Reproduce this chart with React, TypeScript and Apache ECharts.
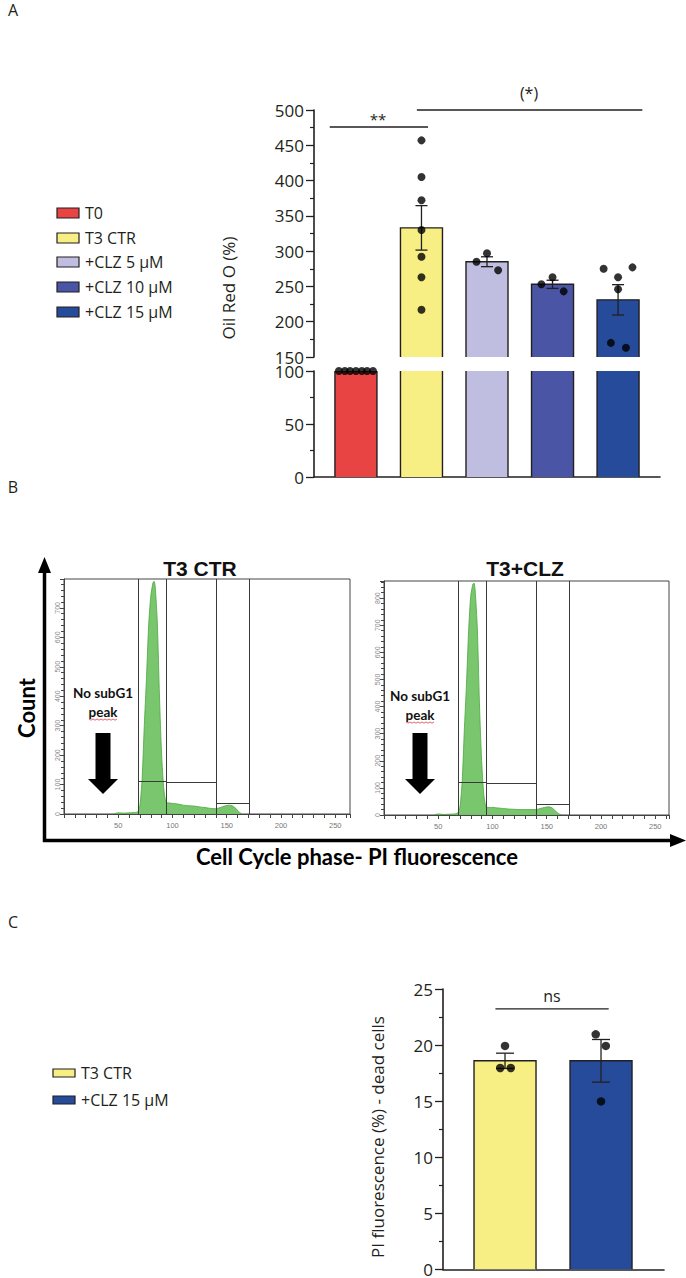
import React, { useEffect, useRef } from 'react';
import * as echarts from 'echarts';

// ---------- Panel A data ----------
const groupsA = ['T0', 'T3 CTR', '+CLZ 5 µM', '+CLZ 10 µM', '+CLZ 15 µM'];
const colorsA = ['#e84444', '#f8ef84', '#c0bee0', '#4a55a5', '#264b9b'];
const meansA = [100, 333, 285, 253, 231];
const semsA = [0, 31.5, 7, 5.8, 21.5];
const dotsT0 = [100, 100, 100, 100, 100, 100, 100];
const jitT0 = [-0.26, -0.17, -0.09, 0, 0.09, 0.17, 0.26];
const dotsT3 = [457, 405, 372, 330, 292, 263, 217];
const jitT3 = [0, 0, 0, 0, 0, 0, 0];
const dotsClz5 = [285, 297, 273];
const jitClz5 = [-0.16, 0, 0.17];
const dotsClz10 = [253, 263, 243];
const jitClz10 = [-0.17, 0, 0.17];
const dotsClz15 = [275, 263, 277, 246, 170, 163];
const jitClz15 = [-0.22, 0, 0.22, 0, -0.11, 0.12];
const ticksA = [0, 50, 100, 150, 200, 250, 300, 350, 400, 450, 500];
// significance brackets: [from, to, level]
const sigA = [[-0.4, 1.1, 476], [0.93, 4.37, 500]];
const sigLabelsA = ['**', '(*)'];

// ---------- Panel B data (flow cytometry histograms) ----------
const histX = [46, 50, 55, 60, 65, 68, 70, 72, 74, 76, 78, 80, 82, 83, 84, 86, 88, 90, 92, 94, 96, 100, 105, 110, 115, 120, 125, 130, 135, 140, 144, 148, 152, 155, 158, 161, 164];
const histCtr = [0, 4, 3, 4, 5, 8, 30, 120, 300, 460, 640, 740, 785, 790, 775, 650, 400, 200, 85, 40, 38, 36, 34, 30, 28, 27, 24, 22, 19, 18, 22, 27, 30, 28, 20, 8, 0];
const histClz = [0, 4, 2, 3, 4, 8, 30, 120, 310, 480, 680, 810, 852, 855, 830, 690, 410, 200, 75, 30, 28, 28, 26, 24, 22, 21, 20, 20, 20, 20, 24, 28, 30, 26, 15, 5, 0];
const gateX = [68.5, 94.5, 140.5, 171];
const gateLevelsCtr = [112, 108, 37];
const gateLevelsClz = [122, 118, 41];
const titlesB = ['T3 CTR', 'T3+CLZ'];

// ---------- Panel C data ----------
const groupsC = ['T3 CTR', '+CLZ 15 µM'];
const colorsC = ['#f8ef84', '#264b9b'];
const meansC = [18.6, 18.6];
const semsC = [0.68, 1.9];
const dotsCtrC = [19.93, 17.96, 17.96];
const jitCtrC = [0, -0.05, 0.06];
const dotsClzC = [20.96, 19.93, 14.98];
const jitClzC = [-0.055, 0.05, 0];
const sigC = [[-0.1, 1.08, 23.23]];

const INK = '#231f20';
const FONT = '"Open Sans", sans-serif';
const BFONT = 'Lato, sans-serif';

function makeBarRender(lo: number, hi: number, width: number, colors: string[]) {
  return (params: any, api: any) => {
    const x = api.value(0);
    const v = api.value(1);
    if (v <= lo) return { type: 'group', children: [] };
    const top = Math.min(v, hi);
    const pT = api.coord([x, top]);
    const pB = api.coord([x, lo]);
    const l = pT[0] - width / 2;
    const r = pT[0] + width / 2;
    const stroke = { stroke: INK, lineWidth: 1.4, fill: null };
    const children: any[] = [
      { type: 'rect', shape: { x: l, y: pT[1], width, height: pB[1] - pT[1] }, style: { fill: colors[params.dataIndex] } },
    ];
    if (v <= hi) {
      children.push({ type: 'polyline', shape: { points: [[l, pB[1]], [l, pT[1]], [r, pT[1]], [r, pB[1]]] }, style: stroke });
    } else {
      children.push({ type: 'line', shape: { x1: l, y1: pB[1], x2: l, y2: pT[1] }, style: stroke });
      children.push({ type: 'line', shape: { x1: r, y1: pB[1], x2: r, y2: pT[1] }, style: stroke });
    }
    return { type: 'group', children };
  };
}

function makeErrRender(capW: number) {
  return (_params: any, api: any) => {
    const x = api.value(0);
    const m = api.value(1);
    const s = api.value(2);
    if (!s) return { type: 'group', children: [] };
    const pHi = api.coord([x, m + s]);
    const pLo = api.coord([x, m - s]);
    const st = { stroke: INK, lineWidth: 1.3 };
    return {
      type: 'group',
      children: [
        { type: 'line', shape: { x1: pHi[0], y1: pHi[1], x2: pLo[0], y2: pLo[1] }, style: st },
        { type: 'line', shape: { x1: pHi[0] - capW / 2, y1: pHi[1], x2: pHi[0] + capW / 2, y2: pHi[1] }, style: st },
        { type: 'line', shape: { x1: pLo[0] - capW / 2, y1: pLo[1], x2: pLo[0] + capW / 2, y2: pLo[1] }, style: st },
      ],
    };
  };
}

function dotData(vals: number[], jit: number[], idx: number) {
  return vals.map((v, j) => [idx + jit[j], v]);
}

function bracketSeries(b: number[], axisIndex: number) {
  return {
    type: 'line',
    xAxisIndex: axisIndex,
    yAxisIndex: axisIndex,
    clip: false,
    symbol: 'none',
    silent: true,
    lineStyle: { color: INK, width: 1.4 },
    data: [[b[0], b[2]], [b[1], b[2]]],
    z: 4,
  };
}

const yAxisA = (min: number, max: number, gridIndex: number) => ({
  type: 'value',
  gridIndex,
  min,
  max,
  interval: 50,
  axisLine: { show: true, onZero: false, lineStyle: { color: INK, width: 1.6 } },
  axisTick: { show: true, length: 8, lineStyle: { color: INK, width: 1.3 } },
  minorTick: { show: true, splitNumber: 2, length: 4, lineStyle: { color: INK, width: 1.2 } },
  splitLine: { show: false },
  minorSplitLine: { show: false },
  axisLabel: {
    margin: 10,
    fontSize: 17,
    color: INK,
    fontFamily: FONT,
    formatter: (v: number) => (ticksA.includes(v) ? String(v) : ''),
  },
});

const histXAxis = (gridIndex: number, max: number) => ({
  type: 'value',
  gridIndex,
  min: 0,
  max,
  interval: 50,
  axisLine: { show: true, onZero: false, lineStyle: { color: '#444', width: 1 } },
  axisTick: { show: true, length: 4, lineStyle: { color: '#444' } },
  minorTick: { show: true, splitNumber: 5, length: 4, lineStyle: { color: '#444' } },
  splitLine: { show: false },
  axisLabel: {
    fontSize: 7.5,
    color: '#777',
    margin: 7,
    formatter: (v: number) => (v > 0 && v % 50 === 0 ? String(v) : ''),
  },
});

const histYAxis = (gridIndex: number, max: number) => ({
  type: 'value',
  gridIndex,
  min: 0,
  max,
  interval: 100,
  axisLine: { show: true, onZero: false, lineStyle: { color: '#444', width: 1 } },
  axisTick: { show: true, length: 4, lineStyle: { color: '#444' } },
  minorTick: { show: true, splitNumber: 5, length: 3, lineStyle: { color: '#444' } },
  splitLine: { show: false },
  axisLabel: {
    fontSize: 7,
    color: '#888',
    rotate: 90,
    margin: 3,
    formatter: (v: number) => (v % 100 === 0 ? String(v) : ''),
  },
});

function histSeries(counts: number[], levels: number[], xi: number) {
  return {
    type: 'line',
    xAxisIndex: xi,
    yAxisIndex: xi,
    data: histX.map((x, i) => [x, counts[i]]),
    showSymbol: false,
    smooth: 0.25,
    lineStyle: { color: '#4aa83e', width: 0.8 },
    areaStyle: { color: '#72c366', opacity: 0.95 },
    markLine: {
      silent: true,
      symbol: 'none',
      label: { show: false },
      lineStyle: { color: '#3a3a3a', width: 1, type: 'solid' },
      emphasis: { disabled: true },
      data: [
        ...gateX.map((g) => ({ xAxis: g })),
        ...levels.map((l, i) => [{ coord: [gateX[i], l] }, { coord: [gateX[i + 1], l] }]),
      ],
    },
  };
}

function noSubG1(cx: number, y1: number, y2: number) {
  const els: any[] = [
    { type: 'text', x: cx, y: y1, style: { text: 'No subG1', font: `bold 13.5px ${BFONT}`, fill: '#111', align: 'center', verticalAlign: 'middle' } },
    { type: 'text', x: cx, y: y2, style: { text: 'peak', font: `bold 13.5px ${BFONT}`, fill: '#111', align: 'center', verticalAlign: 'middle' } },
    { type: 'rect', shape: { x: cx - 7.5, y: 733, width: 15, height: 47 }, style: { fill: '#000' } },
    { type: 'polygon', shape: { points: [[cx - 15, 779], [cx + 15, 779], [cx, 794]] }, style: { fill: '#000' } },
  ];
  const pts: number[][] = [];
  for (let i = 0; i <= 14; i++) pts.push([cx - 14 + i * 2, y2 + 7 + (i % 2 === 0 ? 0 : 1.2)]);
  els.push({ type: 'polyline', shape: { points: pts }, style: { stroke: '#e04040', lineWidth: 0.8, fill: null } });
  return els;
}

function legend(items: string[], colors: string[], x: number, ys: number[], h: number) {
  const els: any[] = [];
  items.forEach((name, i) => {
    els.push({ type: 'rect', shape: { x, y: ys[i] - h / 2, width: 22, height: h }, style: { fill: colors[i], stroke: INK, lineWidth: 1.2 } });
    els.push({ type: 'text', x: x + 28, y: ys[i], style: { text: name, font: `16px ${FONT}`, fill: INK, verticalAlign: 'middle' } });
  });
  return els;
}

const hiddenX = (gridIndex: number, min: number, max: number, showLine: boolean) => ({
  type: 'value',
  gridIndex,
  min,
  max,
  axisLine: { show: showLine, onZero: false, lineStyle: { color: INK, width: 1.6 } },
  axisTick: { show: false },
  axisLabel: { show: false },
  splitLine: { show: false },
});

export default function App() {
  const ref = useRef<HTMLDivElement>(null);
  useEffect(() => {
    document.body.style.margin = '0';
    const chart = echarts.init(ref.current!, undefined, { renderer: 'svg' });
    const option: any = {
      animation: false,
      backgroundColor: '#ffffff',
      grid: [
        { left: 314, top: 110, width: 346, height: 247 }, // A upper
        { left: 314, top: 371, width: 346, height: 106 }, // A lower
        { left: 64, top: 579, width: 286, height: 235, show: true, borderColor: '#444', borderWidth: 1 }, // B left
        { left: 384, top: 581, width: 285, height: 234, show: true, borderColor: '#444', borderWidth: 1 }, // B right
        { left: 443, top: 989, width: 221, height: 283 }, // C
      ],
      xAxis: [
        hiddenX(0, -0.64, 4.64, false),
        hiddenX(1, -0.64, 4.64, true),
        histXAxis(2, 263.6),
        histXAxis(3, 262.7),
        hiddenX(4, -0.646, 1.656, true),
      ],
      yAxis: [
        yAxisA(150, 500, 0),
        yAxisA(0, 100, 1),
        histYAxis(2, 798),
        histYAxis(3, 863),
        {
          type: 'value', gridIndex: 4, min: 0, max: 25, interval: 5,
          axisLine: { show: true, onZero: false, lineStyle: { color: INK, width: 1.6 } },
          axisTick: { show: true, length: 8, lineStyle: { color: INK, width: 1.3 } },
          minorTick: { show: true, splitNumber: 2, length: 4, lineStyle: { color: INK, width: 1.2 } },
          splitLine: { show: false },
          axisLabel: { margin: 10, fontSize: 17, color: INK, fontFamily: FONT },
        },
      ],
      series: [
        // Panel A bars (upper and lower segments of broken axis)
        { type: 'custom', xAxisIndex: 0, yAxisIndex: 0, clip: true, renderItem: makeBarRender(150, 500, 42, colorsA), data: meansA.map((v, i) => [i, v]), encode: { x: 0, y: 1 }, z: 2 },
        { type: 'custom', xAxisIndex: 1, yAxisIndex: 1, clip: true, renderItem: makeBarRender(0, 100, 42, colorsA), data: meansA.map((v, i) => [i, v]), encode: { x: 0, y: 1 }, z: 2 },
        { type: 'custom', xAxisIndex: 0, yAxisIndex: 0, clip: true, renderItem: makeErrRender(12), data: meansA.map((v, i) => [i, v, semsA[i]]), encode: { x: 0, y: 1 }, z: 3 },
        {
          type: 'scatter', xAxisIndex: 1, yAxisIndex: 1, clip: false, symbolSize: 8, itemStyle: { color: '#000' }, z: 5,
          data: dotData(dotsT0, jitT0, 0),
        },
        {
          type: 'scatter', xAxisIndex: 0, yAxisIndex: 0, clip: false, symbolSize: 8, itemStyle: { color: '#000' }, z: 5,
          data: [
            ...dotData(dotsT3, jitT3, 1),
            ...dotData(dotsClz5, jitClz5, 2),
            ...dotData(dotsClz10, jitClz10, 3),
            ...dotData(dotsClz15, jitClz15, 4),
          ],
        },
        ...sigA.map((b) => bracketSeries(b, 0)),
        // Panel B histograms
        histSeries(histCtr, gateLevelsCtr, 2),
        histSeries(histClz, gateLevelsClz, 3),
        // Panel C
        { type: 'custom', xAxisIndex: 4, yAxisIndex: 4, clip: true, renderItem: makeBarRender(0, 25, 62, colorsC), data: meansC.map((v, i) => [i, v]), encode: { x: 0, y: 1 }, z: 2 },
        { type: 'custom', xAxisIndex: 4, yAxisIndex: 4, renderItem: makeErrRender(18), data: meansC.map((v, i) => [i, v, semsC[i]]), encode: { x: 0, y: 1 }, z: 3 },
        {
          type: 'scatter', xAxisIndex: 4, yAxisIndex: 4, clip: false, symbolSize: 8.5, itemStyle: { color: '#000' }, z: 5,
          data: [...dotData(dotsCtrC, jitCtrC, 0), ...dotData(dotsClzC, jitClzC, 1)],
        },
        ...sigC.map((b) => bracketSeries(b, 4)),
      ],
      graphic: [
        // panel letters
        { type: 'text', x: 13, y: 10, style: { text: 'A', font: `16px ${FONT}`, fill: INK, align: 'center', verticalAlign: 'middle' } },
        { type: 'text', x: 13, y: 487, style: { text: 'B', font: `16px ${FONT}`, fill: INK, align: 'center', verticalAlign: 'middle' } },
        { type: 'text', x: 13, y: 922, style: { text: 'C', font: `16px ${FONT}`, fill: INK, align: 'center', verticalAlign: 'middle' } },
        // Panel A annotations
        { type: 'text', x: 228, y: 288, rotation: Math.PI / 2, style: { text: 'Oil Red O (%)', font: `17px ${FONT}`, fill: INK, align: 'center', verticalAlign: 'middle' } },
        { type: 'text', x: 378, y: 119, style: { text: sigLabelsA[0], font: `15px ${FONT}`, fill: INK, align: 'center', verticalAlign: 'middle' } },
        { type: 'text', x: 529, y: 93, style: { text: sigLabelsA[1], font: `16px ${FONT}`, fill: INK, align: 'center', verticalAlign: 'middle' } },
        ...legend(groupsA, colorsA, 57, [213, 238, 262, 287, 312], 10),
        // Panel B annotations
        { type: 'text', x: 200, y: 568, style: { text: titlesB[0], font: `bold 21px "Liberation Sans", Arial, sans-serif`, fill: '#111', align: 'center', verticalAlign: 'middle' } },
        { type: 'text', x: 525, y: 568, style: { text: titlesB[1], font: `bold 21px "Liberation Sans", Arial, sans-serif`, fill: '#111', align: 'center', verticalAlign: 'middle' } },
        ...noSubG1(103, 693, 712),
        ...noSubG1(420, 696, 715),
        { type: 'line', shape: { x1: 44.5, y1: 842, x2: 44.5, y2: 568 }, style: { stroke: '#000', lineWidth: 3.5 } },
        { type: 'polygon', shape: { points: [[44.5, 557], [38, 573], [51, 573]] }, style: { fill: '#000' } },
        { type: 'line', shape: { x1: 43, y1: 840.5, x2: 672, y2: 840.5 }, style: { stroke: '#000', lineWidth: 3.5 } },
        { type: 'polygon', shape: { points: [[686, 840.5], [670, 834], [670, 847]] }, style: { fill: '#000' } },
        { type: 'text', x: 26, y: 708, rotation: Math.PI / 2, style: { text: 'Count', font: `bold 22px ${BFONT}`, fill: '#000', align: 'center', verticalAlign: 'middle' } },
        { type: 'text', x: 357, y: 856, style: { text: 'Cell Cycle phase- PI fluorescence', font: `bold 22px ${BFONT}`, fill: '#000', align: 'center', verticalAlign: 'middle' } },
        // Panel C annotations
        { type: 'text', x: 377, y: 1137, rotation: Math.PI / 2, style: { text: 'PI fluorescence (%) - dead cells', font: `17px ${FONT}`, fill: INK, align: 'center', verticalAlign: 'middle' } },
        { type: 'text', x: 552, y: 996, style: { text: 'ns', font: `16px ${FONT}`, fill: INK, align: 'center', verticalAlign: 'middle' } },
        ...legend(groupsC, colorsC, 53, [1073, 1100], 8),
      ],
    };
    chart.setOption(option);
    return () => chart.dispose();
  }, []);
  return <div ref={ref} style={{ width: 686, height: 1278 }} />;
}
